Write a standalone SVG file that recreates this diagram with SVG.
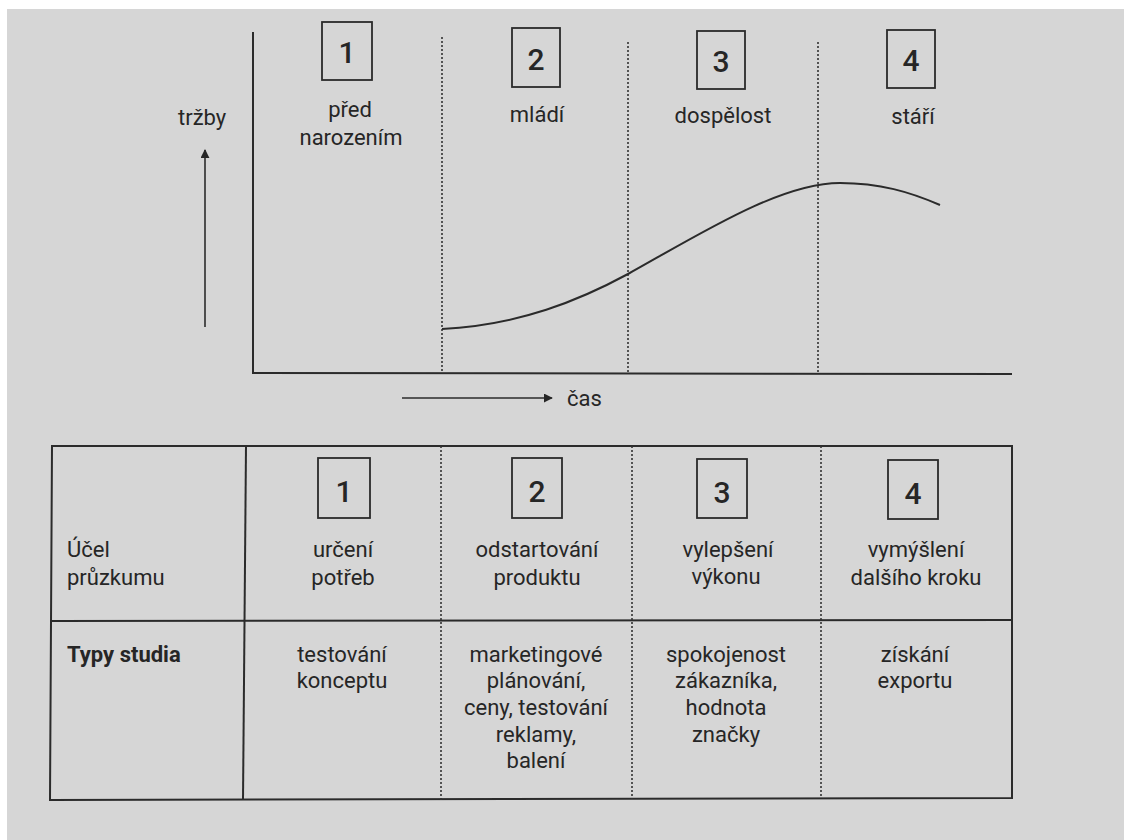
<svg xmlns="http://www.w3.org/2000/svg" width="1124" height="840" viewBox="0 0 1124 840">
  <style>
    text { font-family: Roboto, "Open Sans", "DejaVu Sans", sans-serif; fill: #262626; }
    .lbl { font-size: 22px; }
    .mid { text-anchor: middle; }
    .num { font-size: 30px; text-anchor: middle; font-weight: 500; }
    .bold { font-weight: 700; }
    .box { fill: none; stroke: #2b2b2b; stroke-width: 1.8; }
    .solid { stroke: #2b2b2b; stroke-width: 2; fill: none; }
    .thin { stroke: #2b2b2b; stroke-width: 1.6; fill: none; }
    .dot { stroke: #333; stroke-width: 1.6; stroke-dasharray: 2 2; fill: none; }
  </style>
  <defs>
    <marker id="arrow" viewBox="0 0 10 10" refX="9" refY="5" markerWidth="9" markerHeight="9" markerUnits="userSpaceOnUse" orient="auto">
      <path d="M0,0 L10,5 L0,10 z" fill="#262626"/>
    </marker>
  </defs>

  <!-- page -->
  <rect x="0" y="0" width="1124" height="840" fill="#ffffff"/>
  <rect x="7" y="9" width="1117" height="831" fill="#d6d6d6"/>

  <!-- chart frame, phase dividers, sales curve and axis arrows -->
  <g id="connectors">
    <path class="solid" d="M253,32 L253,373 L1012,374"/>
    <line class="dot" x1="442" y1="37" x2="442" y2="373"/>
    <line class="dot" x1="628" y1="42" x2="628" y2="373"/>
    <line class="dot" x1="818" y1="42" x2="818" y2="373"/>
    <path class="solid" d="M442,329 C520,325 580,300 628,274 C700,234 780,183 840,183 C880,183 910,192 940,205"/>
    <line class="thin" x1="205" y1="327" x2="205" y2="150" marker-end="url(#arrow)"/>
    <line class="thin" x1="402" y1="398" x2="552" y2="398" marker-end="url(#arrow)"/>

    <!-- table grid -->
    <path class="solid" d="M52,446 L1012,446 L1012,798 L50,800 Z"/>
    <line class="solid" x1="52" y1="621" x2="1012" y2="620"/>
    <line class="solid" x1="246" y1="446" x2="243" y2="800"/>
    <line class="dot" x1="441" y1="446" x2="441" y2="800"/>
    <line class="dot" x1="632" y1="446" x2="632" y2="799"/>
    <line class="dot" x1="821" y1="446" x2="821" y2="798"/>
  </g>

  <!-- axis labels -->
  <g id="axis-y">
    <text class="lbl" x="178" y="125">tržby</text>
  </g>
  <g id="axis-x">
    <text class="lbl" x="567" y="406">čas</text>
  </g>

  <!-- life-cycle phases -->
  <g id="phase-1">
    <rect class="box" x="322" y="22" width="50" height="58"/>
    <text class="num" x="347" y="63">1</text>
    <text class="lbl mid" x="350" y="117">před</text>
    <text class="lbl mid" x="351" y="145">narozením</text>
  </g>
  <g id="phase-2">
    <rect class="box" x="512" y="28" width="48" height="59"/>
    <text class="num" x="536" y="70">2</text>
    <text class="lbl mid" x="537" y="122">mládí</text>
  </g>
  <g id="phase-3">
    <rect class="box" x="697" y="31" width="48" height="58"/>
    <text class="num" x="721" y="72">3</text>
    <text class="lbl mid" x="723" y="123">dospělost</text>
  </g>
  <g id="phase-4">
    <rect class="box" x="887" y="30" width="48" height="58"/>
    <text class="num" x="911" y="71">4</text>
    <text class="lbl mid" x="913" y="124">stáří</text>
  </g>

  <!-- table: row headers -->
  <g id="row-purpose">
    <text class="lbl" x="67" y="557">Účel</text>
    <text class="lbl" x="67" y="585">průzkumu</text>
  </g>
  <g id="row-study">
    <text class="lbl bold" x="67" y="662">Typy studia</text>
  </g>

  <!-- table: purpose per phase -->
  <g id="purpose-1">
    <rect class="box" x="318" y="458" width="52" height="60"/>
    <text class="num" x="344" y="502">1</text>
    <text class="lbl mid" x="343" y="557">určení</text>
    <text class="lbl mid" x="343" y="585">potřeb</text>
  </g>
  <g id="purpose-2">
    <rect class="box" x="512" y="458" width="50" height="60"/>
    <text class="num" x="537" y="502">2</text>
    <text class="lbl mid" x="537" y="557">odstartování</text>
    <text class="lbl mid" x="537" y="585">produktu</text>
  </g>
  <g id="purpose-3">
    <rect class="box" x="697" y="459" width="50" height="59"/>
    <text class="num" x="722" y="503">3</text>
    <text class="lbl mid" x="728" y="557">vylepšení</text>
    <text class="lbl mid" x="726" y="584">výkonu</text>
  </g>
  <g id="purpose-4">
    <rect class="box" x="888" y="460" width="50" height="59"/>
    <text class="num" x="913" y="504">4</text>
    <text class="lbl mid" x="916" y="557">vymýšlení</text>
    <text class="lbl mid" x="916" y="585">dalšího kroku</text>
  </g>

  <!-- table: study types per phase -->
  <g id="study-1">
    <text class="lbl mid" x="342" y="662">testování</text>
    <text class="lbl mid" x="342" y="688">konceptu</text>
  </g>
  <g id="study-2">
    <text class="lbl mid" x="536" y="662">marketingové</text>
    <text class="lbl mid" x="536" y="688">plánování,</text>
    <text class="lbl mid" x="536" y="715">ceny, testování</text>
    <text class="lbl mid" x="536" y="742">reklamy,</text>
    <text class="lbl mid" x="536" y="768">balení</text>
  </g>
  <g id="study-3">
    <text class="lbl mid" x="726" y="662">spokojenost</text>
    <text class="lbl mid" x="726" y="688">zákazníka,</text>
    <text class="lbl mid" x="726" y="715">hodnota</text>
    <text class="lbl mid" x="726" y="742">značky</text>
  </g>
  <g id="study-4">
    <text class="lbl mid" x="915" y="662">získání</text>
    <text class="lbl mid" x="915" y="688">exportu</text>
  </g>
</svg>
